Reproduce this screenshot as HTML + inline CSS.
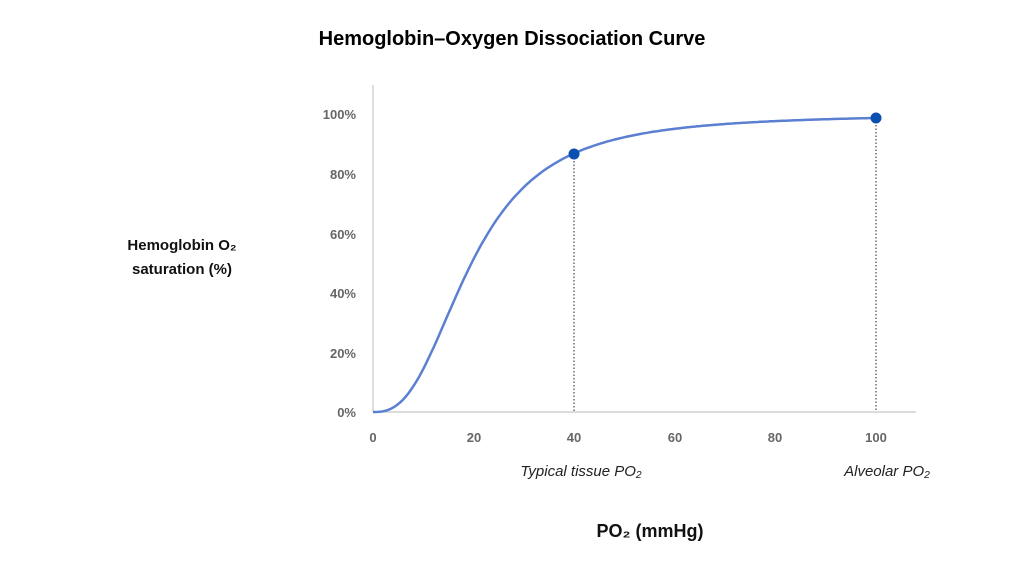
<!DOCTYPE html>
<html><head><meta charset="utf-8"><style>
html,body{margin:0;padding:0;background:#fff;width:1024px;height:576px;overflow:hidden;font-family:"Liberation Sans",sans-serif}
</style></head><body>
<svg width="1024" height="576" xmlns="http://www.w3.org/2000/svg" font-family="Liberation Sans, sans-serif">
<text x="512" y="45" text-anchor="middle" font-size="20" font-weight="bold" fill="#000">Hemoglobin–Oxygen Dissociation Curve</text>
<text x="182" y="250" text-anchor="middle" font-size="15" font-weight="bold" fill="#111">Hemoglobin O₂</text>
<text x="182" y="274" text-anchor="middle" font-size="15" font-weight="bold" fill="#111">saturation (%)</text>
<line x1="373" y1="85" x2="373" y2="412" stroke="#c8c8c8" stroke-width="1.2"/>
<line x1="373" y1="412" x2="916" y2="412" stroke="#c8c8c8" stroke-width="1.2"/>
<g font-size="13" font-weight="bold" fill="#666" text-anchor="end">
<text x="356" y="417">0%</text><text x="356" y="358">20%</text><text x="356" y="298">40%</text>
<text x="356" y="239">60%</text><text x="356" y="179">80%</text><text x="356" y="119">100%</text>
</g>
<g font-size="13" font-weight="bold" fill="#666" text-anchor="middle">
<text x="373" y="442">0</text><text x="474" y="442">20</text><text x="574" y="442">40</text>
<text x="675" y="442">60</text><text x="775" y="442">80</text><text x="876" y="442">100</text>
</g>
<line x1="574" y1="154" x2="574" y2="412" stroke="#222" stroke-width="1" stroke-dasharray="1.5,2"/>
<line x1="876" y1="118" x2="876" y2="412" stroke="#222" stroke-width="1" stroke-dasharray="1.5,2"/>
<path id="c" fill="none" stroke="#5b7fd1" stroke-width="2.5"/>
<circle cx="574" cy="154" r="5.5" fill="#0b4fb0"/>
<circle cx="876" cy="118" r="5.5" fill="#0b4fb0"/>
<g font-size="15" font-style="italic" fill="#222" text-anchor="middle">
<text x="581" y="476">Typical tissue PO₂</text>
<text x="887" y="476">Alveolar PO₂</text>
</g>
<text x="650" y="537" text-anchor="middle" font-size="18" font-weight="bold" fill="#111">PO₂ (mmHg)</text>
</svg>
<script>
var d="";for(var i=0;i<=200;i++){var p=i/2;var r=Math.pow(p/19.6,2.64);var s=r/(1+r);var x=373+p*5.03,y=412-s*100*2.98;d+=(i?"L":"M")+x.toFixed(1)+" "+y.toFixed(1);}
document.getElementById("c").setAttribute("d",d);
</script>
</body></html>
